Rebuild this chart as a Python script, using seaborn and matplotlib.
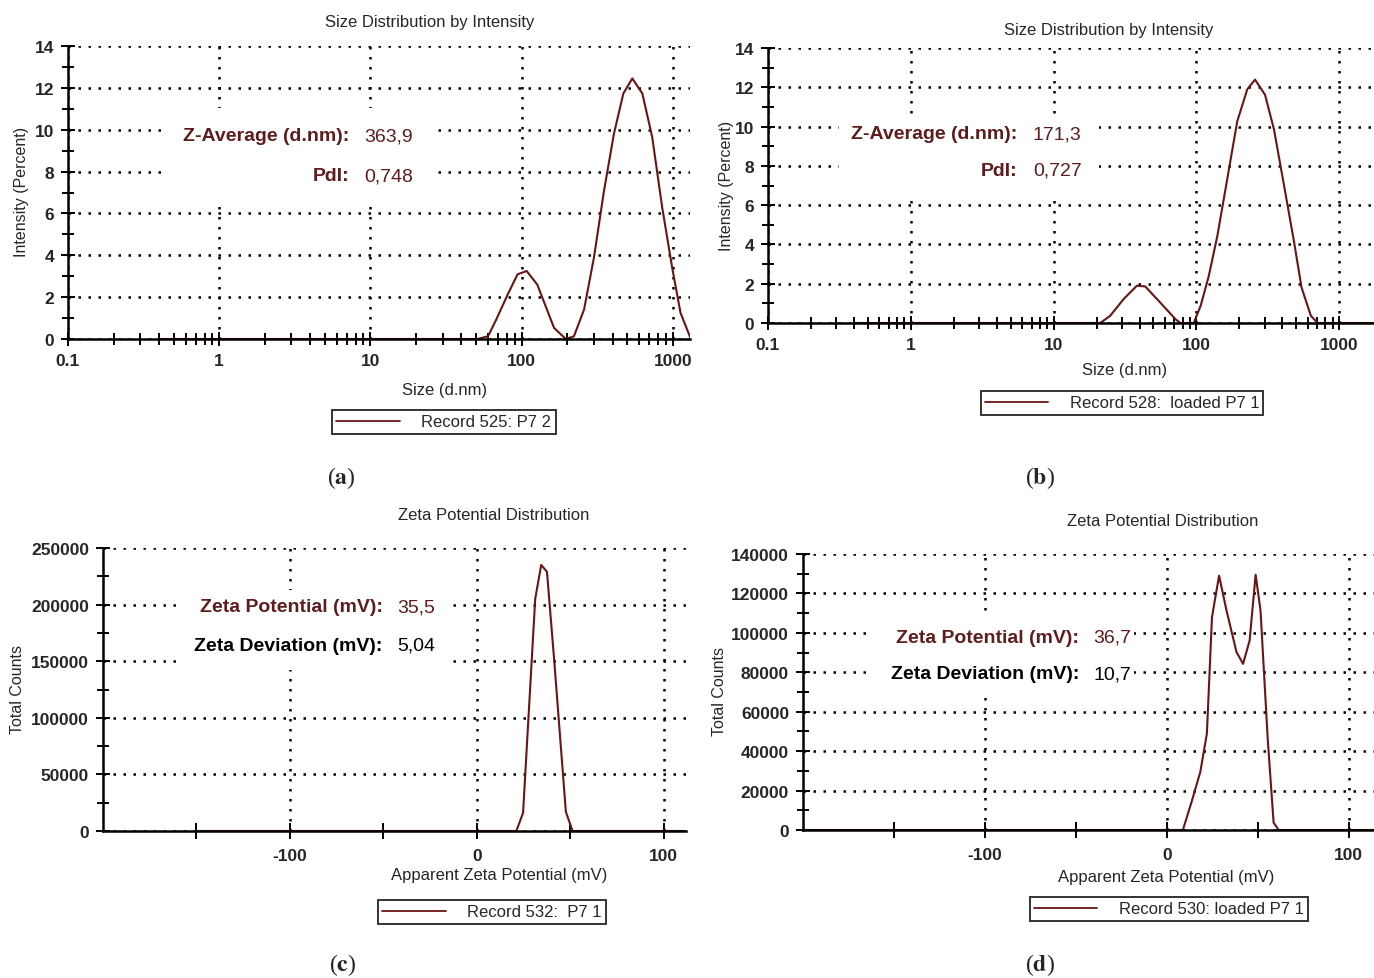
import matplotlib
matplotlib.use("Agg")
import matplotlib.pyplot as plt
import matplotlib.ticker as mticker
from matplotlib.patches import Rectangle
import seaborn as sns

# panel (a): size distribution, record 525
a_size = [0.4, 51, 60, 68, 81, 94, 108, 127, 164, 196, 222, 259, 301, 351, 408,
          471, 540, 629, 731, 851, 991, 1125, 1309]
a_int = [0, 0, 0.13, 0.93, 2.13, 3.09, 3.25, 2.6, 0.53, 0, 0.13, 1.41, 3.89, 7.09,
         9.8, 11.73, 12.45, 11.73, 9.65, 6.29, 3.41, 1.25, 0.05]

# panel (b): size distribution, record 528
b_size = [0.4, 21.2, 24.9, 30.9, 38.3, 43.8, 52.9, 71.2, 77, 95.7, 107, 122, 140,
          164, 193, 227, 257, 302, 349, 411, 483, 544, 632, 705, 1750]
b_int = [0, 0, 0.37, 1.22, 1.9, 1.86, 1.22, 0.2, 0, 0, 0.88, 2.4, 4.43, 7.3, 10.27,
         11.9, 12.39, 11.62, 9.85, 6.97, 4.1, 1.81, 0.37, 0, 0]

# panel (c): zeta potential, record 532
c_mv = [-150, 21.2, 24.8, 31.3, 34.5, 37.6, 41.5, 47.7, 51.3, 111]
c_counts = [0, 0, 16000, 205000, 235000, 229000, 150000, 17000, 0, 0]

# panel (d): zeta potential, record 530
d_mv = [-200, 8.9, 13.7, 18.5, 22.1, 24.9, 28.8, 32.9, 38.4, 42.0, 45.6, 48.9,
        51.6, 55.6, 58.8, 61.6, 114]
d_counts = [0, 0, 14300, 29500, 48900, 108000, 129000, 111300, 90200, 84300,
            96100, 129500, 111300, 45500, 3700, 0, 0]

size_ticks = [0.1, 1, 10, 100, 1000]
size_labels = ["0.1", "1", "10", "100", "1000"]
int_ticks = [0, 2, 4, 6, 8, 10, 12, 14]
zeta_ticks = [-100, 0, 100]
c_yticks = [0, 50000, 100000, 150000, 200000, 250000]
d_yticks = [0, 20000, 40000, 60000, 80000, 100000, 120000, 140000]

sns.set_style("white")
plt.rcParams["font.family"] = ["Liberation Sans", "DejaVu Sans"]
plt.rcParams["mathtext.fontset"] = "stix"
plt.rcParams["axes.unicode_minus"] = False

W, H = 1374, 979
LINE = "#6a1515"
RED_TXT = "#5e1c1c"

fig = plt.figure(figsize=(W / 100, H / 100), dpi=100)


def make_ax(left, right, top, bottom):
    return fig.add_axes([left / W, 1 - bottom / H, (right - left) / W, (bottom - top) / H])


def style(ax):
    sns.despine(ax=ax)
    for s in ("left", "bottom"):
        ax.spines[s].set_linewidth(1.8)
        ax.spines[s].set_color("black")
    ax.set_axisbelow(True)
    ax.grid(True, which="major", color="black", linestyle=(0, (1, 3)), linewidth=1.8)
    ax.tick_params(which="both", direction="inout", color="black", width=1.4,
                   labelsize=12.5, pad=5, bottom=True, left=True)
    ax.tick_params(which="major", length=10)
    ax.tick_params(which="minor", length=8)
    for lab in ax.get_xticklabels() + ax.get_yticklabels():
        lab.set_fontweight("bold")
    ax.set_xlabel("")
    ax.set_ylabel("")


def white_box(ax, x0, y0, x1, y1):
    ax.add_patch(Rectangle((x0, y0), x1 - x0, y1 - y0, transform=ax.transAxes,
                           facecolor="white", edgecolor="none", zorder=1.5))


def info(ax, xr, y1, y2, lines):
    (l1, v1, c1), (l2, v2, c2) = lines
    for y, l, v, c in ((y1, l1, v1, c1), (y2, l2, v2, c2)):
        ax.text(xr, y, l, transform=ax.transAxes, ha="right", va="center",
                fontsize=14, fontweight="bold", color=c, zorder=3)
        ax.text(xr + 0.025, y, v, transform=ax.transAxes, ha="left", va="center",
                fontsize=14, color=c, zorder=3)


def legend(ax, label, cx, cy):
    h = plt.Line2D([], [], color=LINE, lw=1.3)
    leg = ax.legend([h], [label], loc="center", bbox_to_anchor=(cx / W, 1 - cy / H),
                    bbox_transform=fig.transFigure, frameon=True, fancybox=False,
                    edgecolor="black", fontsize=12, handlelength=3.8,
                    handletextpad=1.3, borderpad=0.25, borderaxespad=0)
    leg.get_frame().set_linewidth(1.4)


def size_panel(ax, x, y, xmax):
    sns.lineplot(x=x, y=y, ax=ax, color=LINE, lw=1.5, sort=False)
    ax.set_xscale("log")
    ax.set_xlim(0.1, xmax)
    ax.set_ylim(0, 14)
    ax.set_xticks(size_ticks, labels=size_labels)
    ax.xaxis.set_minor_locator(mticker.LogLocator(base=10, subs=range(2, 10), numticks=20))
    ax.xaxis.set_minor_formatter(mticker.NullFormatter())
    ax.set_yticks(int_ticks)
    ax.yaxis.set_minor_locator(mticker.MultipleLocator(1))
    style(ax)


def zeta_panel(ax, x, y, xmax, yticks, yminor):
    sns.lineplot(x=x, y=y, ax=ax, color=LINE, lw=1.5, sort=False)
    ax.set_xlim(-200, xmax)
    ax.set_ylim(0, yticks[-1])
    ax.set_xticks(zeta_ticks)
    ax.xaxis.set_minor_locator(mticker.FixedLocator([-150, -50, 50]))
    ax.set_yticks(yticks, labels=[str(v) for v in yticks])
    ax.yaxis.set_minor_locator(mticker.MultipleLocator(yminor))
    style(ax)
    ax.tick_params(axis="x", which="both", length=12, pad=6)


# (a)
ax = make_ax(68, 690, 47, 340)
size_panel(ax, a_size, a_int, 1300)
white_box(ax, 0.151, 0.472, 0.588, 0.79)
info(ax, 0.452, 0.693, 0.557,
     [("Z-Average (d.nm):", "363,9", RED_TXT), ("PdI:", "0,748", RED_TXT)])
legend(ax, "Record 525: P7 2", 444, 423)
fig.text(430 / W, 1 - 23 / H, "Size Distribution by Intensity", ha="center", va="center", fontsize=12)
fig.text(22 / W, 1 - 192 / H, "Intensity (Percent)", rotation=90, ha="center", va="center", fontsize=11.5)
fig.text(445 / W, 1 - 390 / H, "Size (d.nm)", ha="center", va="center", fontsize=12)

# (b)
ax = make_ax(768, 1374, 49, 324)
size_panel(ax, b_size, b_int, 1750)
white_box(ax, 0.117, 0.46, 0.547, 0.756)
info(ax, 0.412, 0.689, 0.556,
     [("Z-Average (d.nm):", "171,3", RED_TXT), ("PdI:", "0,727", RED_TXT)])
legend(ax, "Record 528:  loaded P7 1", 1122, 404)
fig.text(1109 / W, 1 - 30 / H, "Size Distribution by Intensity", ha="center", va="center", fontsize=12)
fig.text(727 / W, 1 - 186 / H, "Intensity (Percent)", rotation=90, ha="center", va="center", fontsize=11.5)
fig.text(1125 / W, 1 - 371 / H, "Size (d.nm)", ha="center", va="center", fontsize=12)

# (c)
ax = make_ax(103, 686, 549, 832)
zeta_panel(ax, c_mv, c_counts, 112, c_yticks, 25000)
white_box(ax, 0.125, 0.569, 0.59, 0.851)
info(ax, 0.48, 0.792, 0.656,
     [("Zeta Potential (mV):", "35,5", RED_TXT), ("Zeta Deviation (mV):", "5,04", "black")])
legend(ax, "Record 532:  P7 1", 492, 913)
fig.text(494 / W, 1 - 515 / H, "Zeta Potential Distribution", ha="center", va="center", fontsize=12)
fig.text(18 / W, 1 - 690 / H, "Total Counts", rotation=90, ha="center", va="center", fontsize=11.5)
fig.text(499 / W, 1 - 876 / H, "Apparent Zeta Potential (mV)", ha="center", va="center", fontsize=12)

# (d)
ax = make_ax(803, 1374, 555, 831)
zeta_panel(ax, d_mv, d_counts, 114, d_yticks, 10000)
white_box(ax, 0.115, 0.5, 0.58, 0.777)
info(ax, 0.484, 0.699, 0.566,
     [("Zeta Potential (mV):", "36,7", RED_TXT), ("Zeta Deviation (mV):", "10,7", "black")])
legend(ax, "Record 530: loaded P7 1", 1169, 910)
fig.text(1163 / W, 1 - 521 / H, "Zeta Potential Distribution", ha="center", va="center", fontsize=12)
fig.text(720 / W, 1 - 692 / H, "Total Counts", rotation=90, ha="center", va="center", fontsize=11.5)
fig.text(1166 / W, 1 - 878 / H, "Apparent Zeta Potential (mV)", ha="center", va="center", fontsize=12)

# panel letters
for lx, ly, letter in ((341, 478, "a"), (1040, 478, "b"), (343, 965, "c"), (1040, 965, "d")):
    fig.text(lx / W, 1 - ly / H, "($\\mathbf{" + letter + "}$)", ha="center", va="center",
             fontsize=17, family="Liberation Serif")

fig.savefig("out.png", dpi=100)
